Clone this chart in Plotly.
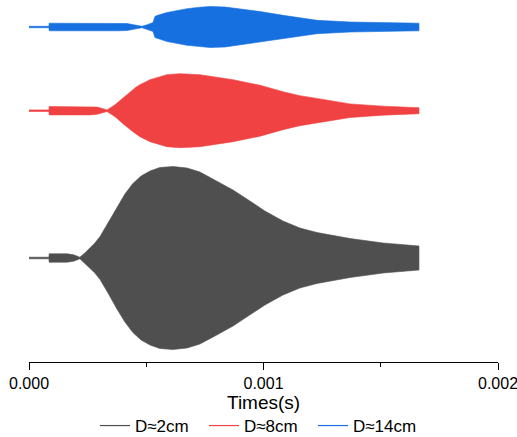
import plotly.graph_objects as go

# ---- data (time in s, envelope half-amplitude in a.u.) ----
series_names = ["D≈2cm", "D≈8cm", "D≈14cm"]
series_colors = ["#4f4f4f", "#f04242", "#1670df"]
series_offsets = [0.0, 147.3, 231.0]

t_2cm = [0.0, 0.0000850, 0.0000860, 0.000162, 0.000190, 0.000209, 0.000217,
         0.000238, 0.000260, 0.000281, 0.000303, 0.000337, 0.000375, 0.000409,
         0.000443, 0.000478, 0.000516, 0.000558, 0.000614, 0.000674, 0.000729,
         0.000793, 0.000870, 0.000942, 0.001006, 0.001083, 0.001126, 0.001155,
         0.001228, 0.001369, 0.001510, 0.001663]
a_2cm = [0.8, 0.8, 4.2, 4.2, 3.2, 1.5, 0.8,
         5.0, 10.0, 15.0, 21.5, 35.0, 51.0, 64.0,
         74.5, 82.0, 87.0, 90.5, 91.5, 90.0, 86.0,
         78.0, 68.0, 57.0, 47.0, 37.0, 33.0, 30.0,
         25.5, 19.5, 15.0, 12.0]

t_8cm = [0.0, 0.0000850, 0.0000860, 0.000260, 0.000290, 0.000316, 0.000333,
         0.000367, 0.000401, 0.000443, 0.000456, 0.000473, 0.000516, 0.000588,
         0.000644, 0.000729, 0.000870, 0.000942, 0.000985, 0.001083, 0.001155,
         0.001228, 0.001369, 0.001510, 0.001663]
a_8cm = [0.8, 0.8, 4.2, 4.2, 3.6, 2.0, 0.8,
         6.0, 13.0, 21.0, 23.5, 26.0, 31.0, 36.0,
         37.0, 36.0, 31.0, 27.5, 25.5, 19.0, 15.0,
         12.3, 6.8, 4.5, 3.0]

t_14cm = [0.0, 0.0000850, 0.0000860, 0.000380, 0.000418, 0.000452, 0.000482,
          0.000507, 0.000529, 0.000537, 0.000546, 0.000588, 0.000674, 0.000729,
          0.000772, 0.000836, 0.000921, 0.000985, 0.001083, 0.001228, 0.001369,
          0.001510, 0.001663]
a_14cm = [0.7, 0.7, 3.8, 3.8, 3.5, 2.0, 0.7,
          2.5, 4.5, 10.5, 11.5, 14.5, 18.3, 19.8,
          20.5, 20.0, 17.5, 15.5, 11.7, 6.7, 5.0,
          4.2, 3.8]

series_t = [t_2cm, t_8cm, t_14cm]
series_a = [a_2cm, a_8cm, a_14cm]

x_tick_vals = [0.0, 0.001, 0.002]
x_tick_text = ["0.000", "0.001", "0.002"]
x_title = "Times(s)"

FONT = "Liberation Sans, Arial, sans-serif"

fig = go.Figure()
for name, color, off, t, a in zip(series_names, series_colors, series_offsets, series_t, series_a):
    upper = [off + v for v in a]
    lower = [off - v for v in a]
    fig.add_trace(go.Scatter(
        x=list(t) + list(t)[::-1],
        y=upper + lower[::-1],
        mode="lines", fill="toself", fillcolor=color,
        line=dict(color=color, width=0.6),
        hoverinfo="skip", showlegend=False,
    ))
for name, color in zip(series_names, series_colors):
    fig.add_trace(go.Scatter(
        x=[None], y=[None], mode="lines", name=name,
        line=dict(color=color, width=1.2),
    ))

fig.add_annotation(
    text=x_title, xref="paper", yref="paper", x=0.5, y=-40 / 362,
    xanchor="center", yanchor="middle", showarrow=False,
    font=dict(family=FONT, size=19, color="black"),
)

fig.update_layout(
    width=517, height=437,
    margin=dict(l=29, r=19, t=0, b=75),
    paper_bgcolor="white", plot_bgcolor="white",
    font=dict(family=FONT, color="black", size=16),
    showlegend=True,
    legend=dict(orientation="h", x=0.5, xanchor="center", xref="container",
                y=11 / 437, yanchor="middle", yref="container",
                font=dict(family=FONT, size=17, color="black"),
                entrywidth=64, entrywidthmode="pixels",
                tracegroupgap=0, bgcolor="rgba(0,0,0,0)"),
    xaxis=dict(
        range=[0, 0.002], tickvals=x_tick_vals, ticktext=x_tick_text,
        ticklabeloverflow="allow", automargin=False,
        showline=True, linecolor="black", linewidth=1, mirror=False,
        ticks="outside", ticklen=7, tickwidth=1, tickcolor="black",
        minor=dict(dtick=0.0005, tick0=0, ticks="outside", ticklen=4,
                   tickwidth=1, tickcolor="black", showgrid=False),
        showgrid=False, zeroline=False,
        tickfont=dict(family=FONT, size=16, color="black"),
    ),
    yaxis=dict(visible=False, range=[-104, 258], showgrid=False, zeroline=False),
)

fig.write_html("out.html")
